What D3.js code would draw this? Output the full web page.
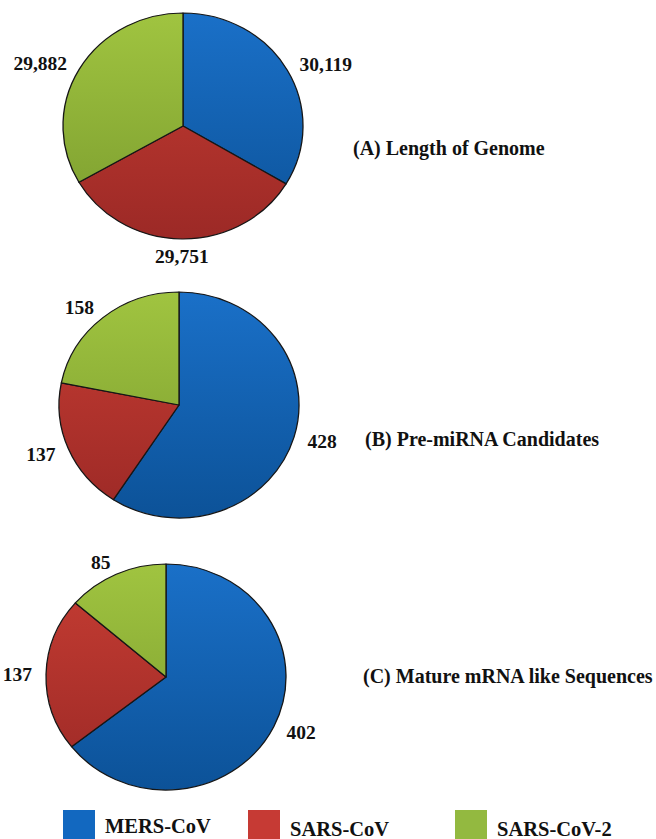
<!DOCTYPE html>
<html><head><meta charset="utf-8">
<script src="https://cdn.jsdelivr.net/npm/d3@7"></script>
<style>
html,body{margin:0;padding:0;background:#fff;}
svg{display:block;}
text{font-family:"Liberation Serif","Times New Roman",serif;font-weight:bold;fill:#111;}
</style></head>
<body>
<svg id="chart" width="656" height="839"></svg>
<script>
const categories = ["MERS-CoV", "SARS-CoV", "SARS-CoV-2"];
const genomeLength = [30119, 29751, 29882];
const preMiRNA = [428, 137, 158];
const matureSeq = [402, 137, 85];
const labelsA = ["30,119", "29,751", "29,882"];
const labelsB = ["428", "137", "158"];
const labelsC = ["402", "137", "85"];
const panelTitles = ["(A) Length of Genome", "(B) Pre-miRNA Candidates", "(C) Mature mRNA like Sequences"];
const colorsTop = ["#1a70c8", "#c63d33", "#a0c440"];
const colorsBottom = ["#0c5298", "#9c2926", "#7a9b2e"];
const legendColors = ["#1268c0", "#c63a34", "#93b940"];

const svg = d3.select("#chart");
const R = 120, RY = 113;
const defs = svg.append("defs");
categories.forEach((c, i) => {
  const g = defs.append("linearGradient").attr("id", "grad" + i)
    .attr("gradientUnits", "userSpaceOnUse")
    .attr("x1", 0).attr("y1", -R).attr("x2", 0).attr("y2", R);
  g.append("stop").attr("offset", "0%").attr("stop-color", colorsTop[i]);
  g.append("stop").attr("offset", "100%").attr("stop-color", colorsBottom[i]);
});

const panels = [
  {values: genomeLength, labels: labelsA, cx: 183, cy: 126, title: panelTitles[0], tx: 353, ty: 148},
  {values: preMiRNA, labels: labelsB, cx: 179, cy: 405, title: panelTitles[1], tx: 365, ty: 439},
  {values: matureSeq, labels: labelsC, cx: 166, cy: 677, title: panelTitles[2], tx: 363, ty: 676}
];

const pie = d3.pie().sort(null);
const arc = d3.arc().innerRadius(0).outerRadius(R);
const sy = RY / R;
const labelR = 134;

panels.forEach(p => {
  const arcs = pie(p.values);
  const g = svg.append("g").attr("transform", `translate(${p.cx},${p.cy}) scale(1,${sy})`);
  g.selectAll("path").data(arcs).join("path")
    .attr("d", arc)
    .attr("fill", (d, i) => `url(#grad${i})`)
    .attr("stroke", "#161616")
    .attr("stroke-width", 1.3)
    .attr("stroke-linejoin", "round");
  arcs.forEach((d, i) => {
    const a = (d.startAngle + d.endAngle) / 2;
    const s = Math.sin(a), c = -Math.cos(a);
    const mid = Math.abs(s) < 0.2;
    const r = mid ? labelR + 4 : labelR;
    const x = p.cx + r * s;
    const y = p.cy + r * c * sy;
    svg.append("text")
      .attr("x", x).attr("y", y)
      .attr("dy", "0.35em")
      .attr("font-size", 19.5)
      .attr("text-anchor", mid ? "middle" : (s > 0 ? "start" : "end"))
      .text(p.labels[i]);
  });
  svg.append("text")
    .attr("x", p.tx).attr("y", p.ty).attr("dy", "0.35em")
    .attr("font-size", 20)
    .text(p.title);
});

// legend
const legendX = d3.scaleOrdinal().domain(categories).range([63, 248, 455]);
const legendTextDy = [826, 829, 829];
const lg = svg.append("g");
categories.forEach((c, i) => {
  lg.append("rect").attr("x", legendX(c)).attr("y", 810)
    .attr("width", 32).attr("height", 34)
    .attr("fill", legendColors[i]);
  lg.append("text").attr("x", legendX(c) + 42).attr("y", legendTextDy[i])
    .attr("dy", "0.35em").attr("font-size", 20.5)
    .text(c);
});
</script>
</body></html>
